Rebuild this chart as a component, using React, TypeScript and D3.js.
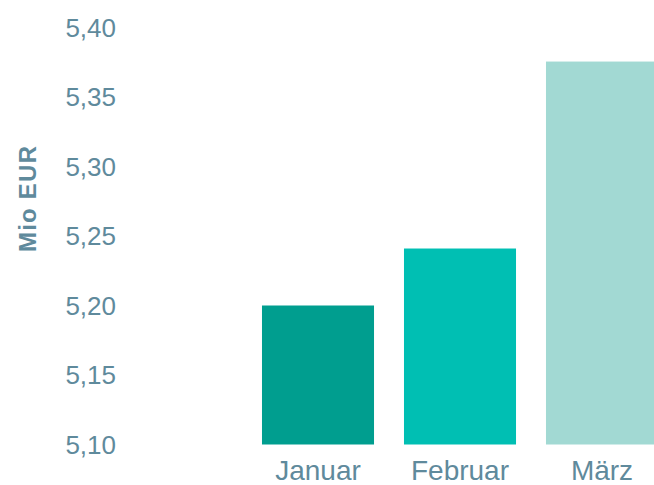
import React from "react";
import * as d3 from "d3";

const categories = ["Januar", "Februar", "März"];
const values = [5.2, 5.241, 5.3755];
const barColors = ["#009e8f", "#00bfb3", "#a2d9d3"];
const yTicks = [5.1, 5.15, 5.2, 5.25, 5.3, 5.35, 5.4];
const yTitle = "Mio EUR";

const W = 654;
const H = 485;
const textColor = "#5f8a9c";

export default function App() {
  const y = d3.scaleLinear().domain([5.1, 5.4]).range([444.5, 27.5]);
  const x = d3
    .scaleBand<string>()
    .domain(categories)
    .range([247, 673])
    .paddingInner(0.211)
    .paddingOuter(0.1055);
  const fmt = (v: number) => d3.format(".2f")(v).replace(".", ",");
  return (
    <svg
      width={W}
      height={H}
      style={{ position: "absolute", left: 0, top: 0, background: "#fff" }}
      fontFamily="'Liberation Sans', Arial, sans-serif"
    >
      {categories.map((c, i) => (
        <rect
          key={c}
          x={x(c)}
          y={y(values[i])}
          width={x.bandwidth()}
          height={y(5.1) - y(values[i])}
          fill={barColors[i]}
        />
      ))}
      {yTicks.map((t) => (
        <text
          key={t}
          x={116}
          y={y(t)}
          dy="0.35em"
          textAnchor="end"
          fontSize={26}
          fill={textColor}
        >
          {fmt(t)}
        </text>
      ))}
      {categories.map((c) => (
        <text
          key={c}
          x={(x(c) as number) + x.bandwidth() / 2}
          y={480}
          textAnchor="middle"
          fontSize={28}
          fill={textColor}
        >
          {c}
        </text>
      ))}
      <text
        transform={`translate(36,199) rotate(-90)`}
        textAnchor="middle"
        fontSize={24}
        fontWeight="bold"
        textLength={106}
        lengthAdjust="spacing"
        fill={textColor}
      >
        {yTitle}
      </text>
    </svg>
  );
}
